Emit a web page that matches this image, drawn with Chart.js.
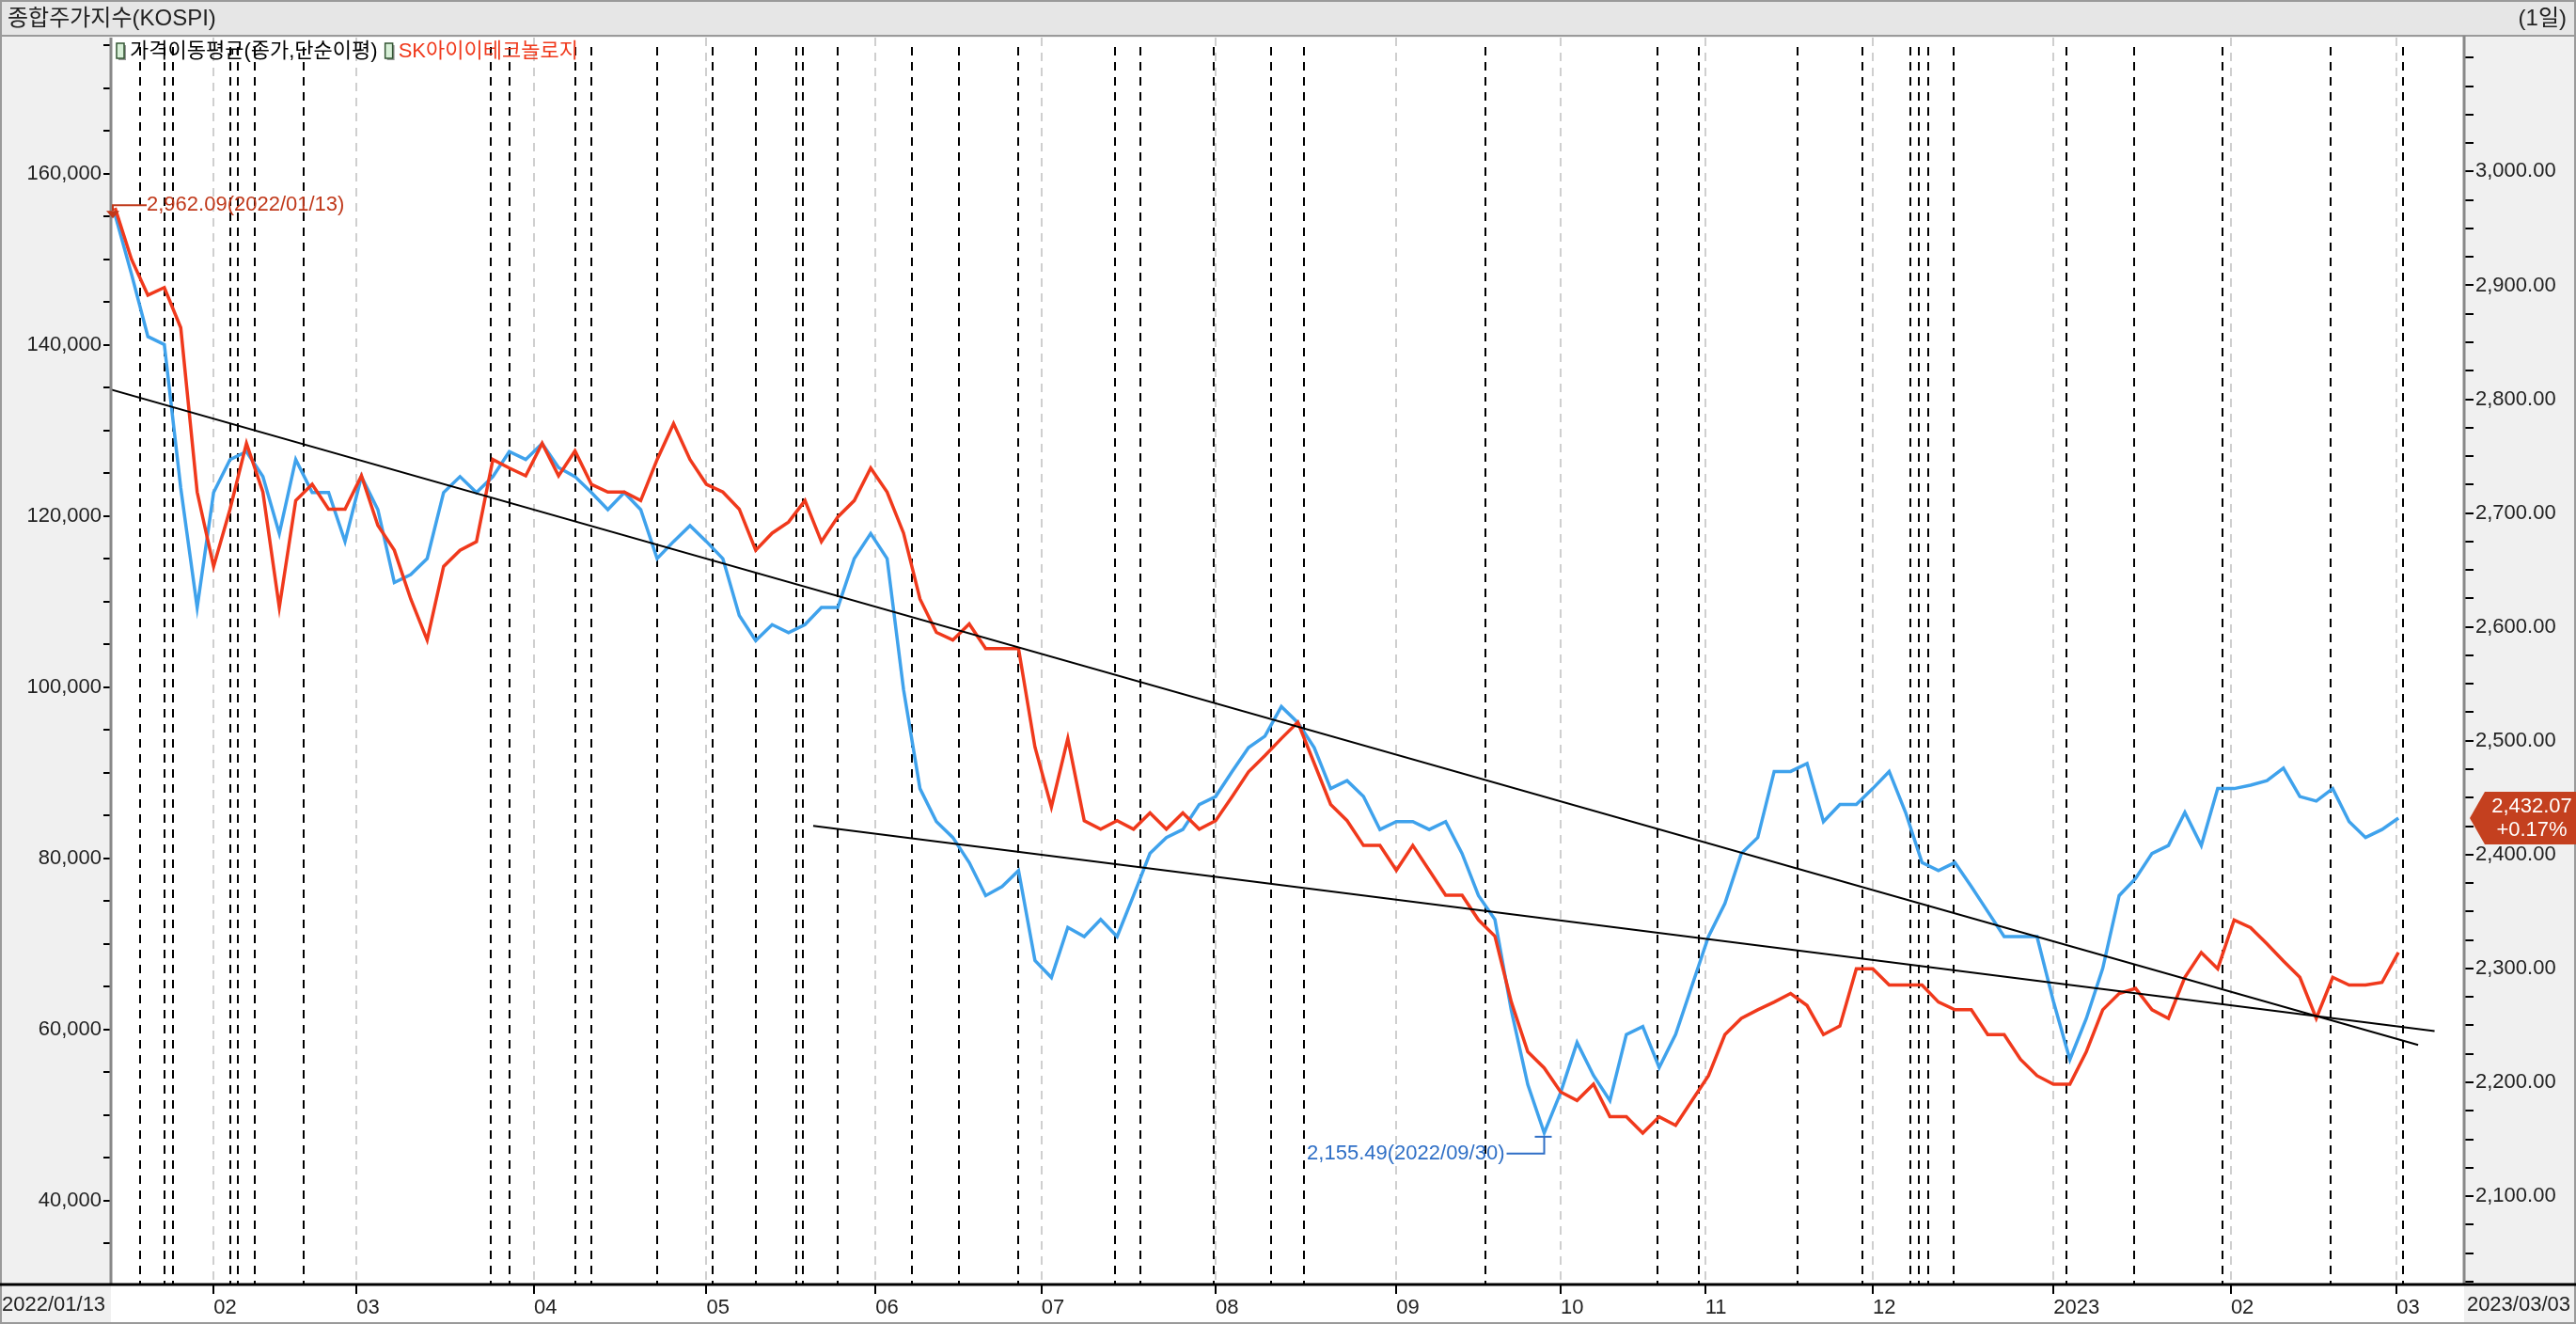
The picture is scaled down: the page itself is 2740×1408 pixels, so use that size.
<!DOCTYPE html>
<html>
<head>
<meta charset="utf-8">
<script src="https://cdn.jsdelivr.net/npm/chart.js@4.4.1/dist/chart.umd.min.js"></script>
<style>
  html, body { margin: 0; padding: 0; background: #fff; }
  canvas { display: block; }
</style>
</head>
<body>
<canvas id="chart" width="2740" height="1408"></canvas>
<script>
// KOSPI close (right axis), one sample every 2 trading days from 2022/01/13
const kospi = [2962.09,
  2910, 2855, 2848, 2722, 2617, 2718, 2747, 2754, 2732, 2682, 2747, 2718, 2718, 2675, 2732, 2703, 2639, 2646, 2660, 2718,
  2732, 2718, 2732, 2754, 2747, 2761, 2740, 2732, 2718, 2703, 2718, 2703, 2660, 2675, 2689, 2675, 2660, 2610, 2588, 2602,
  2595, 2602, 2617, 2617, 2660, 2682, 2660, 2545, 2458, 2429, 2415, 2393, 2364, 2372, 2386, 2307, 2292, 2336, 2328, 2343,
  2328, 2364, 2401, 2415, 2422, 2444, 2451, 2473, 2494, 2504, 2530, 2516, 2494, 2458, 2465, 2451, 2422, 2429, 2429, 2422,
  2429, 2401, 2364, 2343, 2263, 2198, 2155.49, 2191, 2235, 2206, 2184, 2242, 2249, 2213, 2242, 2285, 2328, 2357, 2401, 2415,
  2473, 2473, 2480, 2429, 2444, 2444, 2458, 2473, 2437, 2393, 2386, 2393, 2372, 2350, 2328, 2328, 2328, 2271, 2220, 2256,
  2300, 2364, 2379, 2401, 2408, 2437, 2408, 2458, 2458, 2461, 2465, 2476, 2451, 2447, 2458, 2429, 2415, 2422, 2432.07];

// SK아이이테크놀로지 close (left axis), same sampling
const skiet = [156000,
  150000, 145800, 146700, 142000, 122800, 114100, 120800, 128500, 122800, 109300, 121800, 123700, 120800, 120800, 124700, 118900, 116000, 110300, 105500, 114100,
  116000, 117000, 126600, 125600, 124700, 128500, 124700, 127600, 123700, 122800, 122800, 121800, 126600, 130800, 126600, 123700, 122800, 120800, 116000, 118000,
  119300, 121800, 117000, 119900, 121800, 125600, 122800, 118000, 110300, 106400, 105500, 107400, 104500, 104500, 104500, 93000, 86000, 94000, 84400, 83400,
  84400, 83400, 85300, 83400, 85300, 83400, 84400, 87200, 90100, 92000, 94000, 95900, 91100, 86300, 84400, 81500, 81500, 78600, 81500, 78600,
  75700, 75700, 72800, 70900, 63200, 57400, 55500, 52700, 51700, 53600, 49800, 49800, 47900, 49800, 48800, 51700, 54600, 59400, 61300, 62300,
  63200, 64200, 62800, 59400, 60400, 67100, 67100, 65200, 65200, 65200, 63200, 62300, 62300, 59400, 59400, 56500, 54600, 53600, 53600, 57400,
  62300, 64200, 64800, 62300, 61300, 66100, 69000, 67100, 72800, 71900, 70000, 68000, 66100, 61300, 66100, 65200, 65200, 65500, 69000];

// month tick positions (trading-day index) and labels
const monthDays = [12, 29.4, 51, 72, 92.6, 112.8, 134, 156, 176, 193.6, 214, 236, 257.6, 277.8];
const monthLabels = ['02', '03', '04', '05', '06', '07', '08', '09', '10', '11', '12', '2023', '02', '03'];

// black dashed event lines (trading-day index)
const eventDays = [3, 6, 7, 14, 15, 17, 23, 45.8, 48, 56, 58, 66, 72.8, 78, 83, 83.8, 88, 97, 102.8, 110, 121.8, 124.8,
  133.8, 140.8, 144.8, 166.8, 187.8, 192.8, 204.8, 212.8, 218.6, 219.6, 220.8, 223.8, 237.6, 245.8, 256.6, 269.8, 278.6];

// trend lines on the left axis: [day, value]
const trend1 = [[-0.6, 134800], [280.4, 58200]];
const trend2 = [[85, 83800], [282.4, 59800]];

const FONT = '"Liberation Sans", "Noto Sans CJK KR", sans-serif';
const BLUE = '#3fa2ec';
const RED = '#f0391c';

const days = kospi.map((v, i) => i * 2);
const kospiPts = kospi.map((v, i) => ({ x: days[i], y: v }));
const skietPts = skiet.map((v, i) => ({ x: days[i], y: v }));

const fmt0 = v => v.toLocaleString('en-US');
const fmt2 = v => v.toLocaleString('en-US', { minimumFractionDigits: 2, maximumFractionDigits: 2 });

const decor = {
  id: 'decor',
  beforeDraw(chart) {
    const { ctx, chartArea: a, scales } = chart;
    ctx.save();
    ctx.fillStyle = '#f0f0f0';
    ctx.fillRect(0, 0, chart.width, chart.height);
    ctx.fillStyle = '#fff';
    ctx.fillRect(a.left, a.top, a.right - a.left, chart.height - a.top);
    // title band
    ctx.fillStyle = '#e6e6e6';
    ctx.fillRect(0, 0, chart.width, 38);
    ctx.strokeStyle = '#9a9a9a';
    ctx.lineWidth = 2;
    ctx.strokeRect(1, 1, chart.width - 2, chart.height - 2);
    ctx.beginPath(); ctx.moveTo(0, 38); ctx.lineTo(chart.width, 38); ctx.stroke();
    // month dashed lines
    ctx.lineWidth = 2;
    ctx.setLineDash([9, 7]);
    ctx.strokeStyle = '#cfcfcf';
    monthDays.forEach(d => {
      const x = Math.round(scales.x.getPixelForValue(d));
      ctx.beginPath(); ctx.moveTo(x, a.top); ctx.lineTo(x, a.bottom); ctx.stroke();
    });
    ctx.strokeStyle = '#000';
    eventDays.forEach(d => {
      const x = Math.round(scales.x.getPixelForValue(d));
      ctx.beginPath(); ctx.moveTo(x, a.top + 10); ctx.lineTo(x, a.bottom); ctx.stroke();
    });
    ctx.restore();
  },
  afterDraw(chart) {
    const { ctx, chartArea: a, scales } = chart;
    const x = scales.x, yL = scales.yL, yR = scales.yR;
    ctx.save();
    // axis frame
    ctx.strokeStyle = '#888';
    ctx.lineWidth = 3;
    ctx.beginPath(); ctx.moveTo(a.left, a.top); ctx.lineTo(a.left, a.bottom); ctx.stroke();
    ctx.beginPath(); ctx.moveTo(a.right, 38); ctx.lineTo(a.right, a.bottom); ctx.stroke();
    ctx.strokeStyle = '#000';
    ctx.beginPath(); ctx.moveTo(0, a.bottom); ctx.lineTo(chart.width, a.bottom); ctx.stroke();

    // title
    ctx.fillStyle = '#222';
    ctx.font = '24px ' + FONT;
    ctx.textBaseline = 'middle';
    ctx.textAlign = 'left';
    ctx.fillText('종합주가지수(KOSPI)', 8, 20);
    ctx.textAlign = 'right';
    ctx.fillText('(1일)', chart.width - 10, 20);

    // legend
    ctx.textAlign = 'left';
    ctx.font = '22px ' + FONT;
    const icon = (ix, iy) => {
      ctx.fillStyle = '#999'; ctx.fillRect(ix + 2, iy + 2, 8, 16);
      ctx.fillStyle = '#d8f0d8'; ctx.fillRect(ix, iy, 8, 16);
      ctx.strokeStyle = '#335533'; ctx.lineWidth = 1.5; ctx.strokeRect(ix, iy, 8, 16);
    };
    icon(124, 46);
    ctx.fillStyle = '#000';
    ctx.fillText('가격이동평균(종가,단순이평)', 138, 55);
    const w1 = ctx.measureText('가격이동평균(종가,단순이평)').width;
    icon(146 + w1, 46);
    ctx.fillStyle = RED;
    ctx.fillText('SK아이이테크놀로지', 160 + w1, 55);

    // max annotation
    const hx = x.getPixelForValue(-0.5), hy = yR.getPixelForValue(2962.09);
    ctx.strokeStyle = '#c0391b'; ctx.fillStyle = '#c0391b'; ctx.lineWidth = 2;
    ctx.beginPath(); ctx.moveTo(hx + 2, hy - 4); ctx.lineTo(hx + 2, hy - 10); ctx.lineTo(hx + 38, hy - 10); ctx.stroke();
    ctx.beginPath(); ctx.moveTo(hx - 5, hy - 4); ctx.lineTo(hx + 9, hy - 4); ctx.lineTo(hx + 2, hy + 4); ctx.fill();
    ctx.font = '22px ' + FONT;
    ctx.fillText('2,962.09(2022/01/13)', hx + 38, hy - 10);

    // min annotation
    const lx = x.getPixelForValue(174), ly = yR.getPixelForValue(2155.49);
    ctx.strokeStyle = '#2f6fc6'; ctx.fillStyle = '#2f6fc6';
    ctx.beginPath(); ctx.moveTo(lx - 10, ly + 4); ctx.lineTo(lx + 8, ly + 4); ctx.stroke();
    ctx.beginPath(); ctx.moveTo(lx, ly + 4); ctx.lineTo(lx, ly + 22); ctx.lineTo(lx - 40, ly + 22); ctx.stroke();
    ctx.textAlign = 'right';
    ctx.fillText('2,155.49(2022/09/30)', lx - 42, ly + 22);

    // last value tag
    const ty = yR.getPixelForValue(2432.07);
    const tx = a.right + 6;
    ctx.fillStyle = '#c4401f';
    ctx.beginPath();
    ctx.moveTo(tx, ty); ctx.lineTo(tx + 16, ty - 28); ctx.lineTo(chart.width, ty - 28);
    ctx.lineTo(chart.width, ty + 28); ctx.lineTo(tx + 16, ty + 28); ctx.closePath(); ctx.fill();
    ctx.fillStyle = '#fff';
    ctx.textAlign = 'center';
    ctx.fillText('2,432.07', tx + 66, ty - 12);
    ctx.fillText('+0.17%', tx + 66, ty + 13);

    // date stamps
    ctx.fillStyle = '#222';
    ctx.textAlign = 'left';
    ctx.fillText('2022/01/13', 2, a.bottom + 22);
    ctx.textAlign = 'right';
    ctx.fillText('2023/03/03', chart.width - 6, a.bottom + 22);
    ctx.restore();
  }
};

new Chart(document.getElementById('chart').getContext('2d'), {
  type: 'line',
  data: {
    datasets: [
      { label: 'trend1', data: trend1.map(p => ({ x: p[0], y: p[1] })), yAxisID: 'yL', borderColor: '#000', borderWidth: 2, pointRadius: 0 },
      { label: 'trend2', data: trend2.map(p => ({ x: p[0], y: p[1] })), yAxisID: 'yL', borderColor: '#000', borderWidth: 2, pointRadius: 0 },
      { label: 'SK아이이테크놀로지', data: skietPts, yAxisID: 'yL', borderColor: RED, borderWidth: 3.5, pointRadius: 0, tension: 0 },
      { label: '종합주가지수', data: kospiPts, yAxisID: 'yR', borderColor: BLUE, borderWidth: 3.5, pointRadius: 0, tension: 0 }
    ]
  },
  options: {
    responsive: false,
    animation: false,
    devicePixelRatio: 1,
    layout: { padding: { top: 40, left: 0, right: 0, bottom: 0 } },
    plugins: { legend: { display: false }, tooltip: { enabled: false } },
    scales: {
      x: {
        type: 'linear', min: -0.5, max: 286,
        afterBuildTicks: s => { s.ticks = monthDays.map(v => ({ value: v })); },
        afterFit: s => { s.height = 42; },
        ticks: {
          autoSkip: false, maxRotation: 0, align: 'start', padding: 2,
          color: '#222', font: { size: 22, family: FONT },
          callback: (v, i) => monthLabels[i]
        },
        grid: { drawOnChartArea: false, tickLength: 10, color: '#000', lineWidth: 2 },
        border: { display: false }
      },
      yL: {
        position: 'left', min: 30200, max: 175900,
        afterBuildTicks: s => {
          const t = [];
          for (let v = 35000; v <= 175000; v += 5000) t.push({ value: v });
          s.ticks = t;
        },
        afterFit: s => { s.width = 118; },
        ticks: {
          autoSkip: false, padding: 2, color: '#222', font: { size: 22, family: FONT },
          callback: v => (v % 20000 === 0 && v >= 40000 && v <= 160000) ? fmt0(v) : ''
        },
        grid: { drawOnChartArea: false, tickLength: 8, color: '#000', lineWidth: 2 },
        border: { display: false }
      },
      yR: {
        position: 'right', min: 2022.4, max: 3117.6,
        afterBuildTicks: s => {
          const t = [];
          for (let v = 2025; v <= 3100; v += 25) t.push({ value: v });
          s.ticks = t;
        },
        afterFit: s => { s.width = 119; },
        ticks: {
          autoSkip: false, padding: 2, color: '#222', font: { size: 22, family: FONT },
          callback: v => (v % 100 === 0 && v >= 2100 && v <= 3000) ? fmt2(v) : ''
        },
        grid: { drawOnChartArea: false, tickLength: 10, color: '#000', lineWidth: 2 },
        border: { display: false }
      }
    }
  },
  plugins: [decor]
});
</script>
</body>
</html>
